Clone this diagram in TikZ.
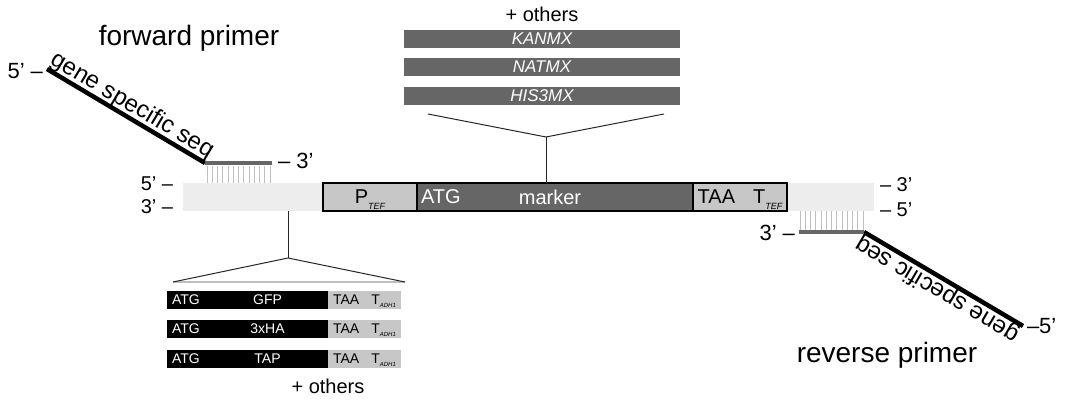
\documentclass[tikz,border=0pt]{standalone}
\usepackage{fontspec}
\setmainfont{Liberation Sans}
\usetikzlibrary{positioning}

\definecolor{bandgray}{gray}{0.93}
\definecolor{boxgray}{gray}{0.78}
\definecolor{markgray}{gray}{0.40}
\definecolor{hatchgray}{gray}{0.75}

% small italic subscript: size, drop, text
\newcommand{\lowsub}[3]{\raisebox{-#2}[0pt][0pt]{\fontsize{#1}{#1}\selectfont\itshape #3}}

\begin{document}
\begin{tikzpicture}[x=1pt, y=-1pt,
    every node/.style={inner sep=0pt, outer sep=0pt},
    lbl/.style={font=\fontsize{20}{24}\selectfont},
    endlbl/.style={font=\fontsize{22}{26}\selectfont},
    title/.style={font=\fontsize{28}{32}\selectfont},
    band/.style={fill=bandgray, minimum width=691pt, minimum height=28pt, anchor=north west},
    seg/.style={draw, line width=1.5pt, minimum width=94pt, minimum height=28pt, font=\fontsize{20}{24}\selectfont},
    mxbar/.style={fill=markgray, minimum width=276pt, minimum height=18pt, text=white, font=\fontsize{17}{20}\selectfont\itshape},
    tagbox/.style={fill=black, minimum width=161pt, minimum height=18pt, anchor=north west},
    tagtxt/.style={text=white, font=\fontsize{14}{16}\selectfont},
    termbox/.style={fill=boxgray, minimum width=73pt, minimum height=18pt, font=\fontsize{14}{16}\selectfont},
    primer/.style={line width=4.5pt},
    anneal/.style={draw=markgray, line width=4pt},
    link/.style={draw=black!85, line width=1pt},
    hatch/.style={draw=hatchgray, line width=0.7pt}
  ]
  \useasboundingbox (0,0) rectangle (1066,401);

  % genomic locus with the cassette
  \node[band] (gdna) at (183,183) {};
  \node[seg, fill=boxgray, anchor=north west] (ptef) at (323,183) {P\lowsub{9}{6pt}{TEF}};
  \node[seg, fill=markgray, minimum width=276pt, text=white, right=0pt of ptef] (marker) {\hspace{-10pt}marker};
  \node[lbl, text=white, anchor=west] (atg) at ([xshift=4pt]marker.west) {ATG};
  \node[seg, fill=boxgray, right=0pt of marker] (tterm) {TAA\hspace{18pt}T\lowsub{9}{6pt}{TEF}};

  \node[lbl, anchor=base east] (top5) at (173,190) {5' --};
  \node[lbl, anchor=base east] (bot3) at (173,213) {3' --};
  \node[lbl, anchor=base west] (top3) at (880,192) {-- 3'};
  \node[lbl, anchor=base west] (bot5) at (880,216) {-- 5'};

  % marker choices
  \node[mxbar, anchor=north west] (kanmx) at (404,30) {KANMX};
  \node[mxbar, below=10pt of kanmx] (natmx) {NATMX};
  \node[mxbar, below=11pt of natmx] (his3mx) {HIS3MX};
  \node[lbl, above=8pt of kanmx] (mxmore) {+ others};

  \coordinate (mxsplit) at (546,137);
  \draw[link] (mxsplit |- marker.north) -- (mxsplit);
  \draw[link] ([shift={(24,9)}]his3mx.south west) -- (mxsplit) -- ([shift={(-16,9)}]his3mx.south east);

  % tag choices
  \foreach \tg/\yy in {GFP/291, 3xHA/320, TAP/350} {
    \node[tagbox] (tag-\tg) at (167,\yy) {};
    \node[tagtxt, anchor=west] at ([xshift=5pt]tag-\tg.west) {ATG};
    \node[tagtxt] at ([xshift=20pt]tag-\tg.center) {\tg};
    \node[termbox, right=0pt of tag-\tg] (term-\tg) {TAA\hspace{12pt}T\lowsub{6}{2.5pt}{ADH1}};
  }
  \node[lbl, below=11pt of tag-TAP.south east] (tagmore) {+ others};

  \coordinate (tagsplit) at (288,258);
  \coordinate (tagl) at ([shift={(6,-9)}]tag-GFP.north west);
  \coordinate (tagr) at ([shift={(4,-9)}]term-GFP.north east);
  \draw[hatch, line width=1.2pt] (tagl) -- (tagr);
  \draw[link] (tagsplit |- gdna.south) -- (tagsplit);
  \draw[link] (tagl) -- (tagsplit) -- (tagr);

  % forward primer
  \node[title] (fwdname) at (189,38) {forward primer};
  \coordinate (fwd5) at (47,69);
  \coordinate (fwd3) at (205,163);
  \coordinate (fwdend) at (272,163);
  \foreach \i in {0,...,12}
    \draw[hatch] (207+\i*5.25,166) -- (207+\i*5.25,183);
  \draw[primer] (fwd5) -- (fwd3)
    node[midway, sloped, above=1pt, font=\fontsize{24}{28}\selectfont] (fwdseq) {gene specific seq};
  \draw[anneal] (fwd3) -- (fwdend);
  \node[endlbl, anchor=base east] (fwd5lbl) at (43,79) {5' --};
  \node[endlbl, anchor=base west] (fwd3lbl) at (278,168) {-- 3'};

  % reverse primer
  \node[title] (revname) at (887,355) {reverse primer};
  \coordinate (rev5) at (1023,326);
  \coordinate (rev3) at (864,232);
  \coordinate (revend) at (799,232);
  \foreach \i in {0,...,12}
    \draw[hatch] (800+\i*5.25,211) -- (800+\i*5.25,230);
  \draw[primer] (rev5) -- (rev3)
    node[midway, sloped, allow upside down, above=1pt, font=\fontsize{24}{28}\selectfont] (revseq) {gene specific seq};
  \draw[anneal] (rev3) -- (revend);
  \node[endlbl, anchor=base east] (rev3lbl) at (795,240) {3' --};
  \node[endlbl, anchor=base west] (rev5lbl) at (1027,333) {--5'};
\end{tikzpicture}
\end{document}
